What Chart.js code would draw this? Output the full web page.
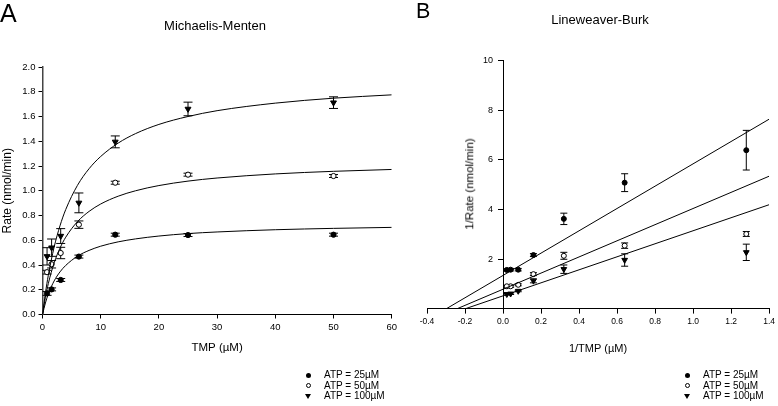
<!DOCTYPE html>
<html>
<head>
<meta charset="utf-8">
<script src="https://cdn.jsdelivr.net/npm/chart.js@4.4.0/dist/chart.umd.min.js"></script>
<style>
  body { margin: 0; background: #fff; width: 778px; height: 406px; overflow: hidden; position: relative;
         font-family: "Liberation Sans", Arial, sans-serif; color: #000; }
  canvas { position: absolute; top: 0; }
  #cMM { left: 0; }
  #cLB { left: 400px; }
  .txt { position: absolute; white-space: nowrap; line-height: 1; }
  .panel { font-size: 25px; }
  .title { font-size: 13px; transform: translate(-50%, -50%); }
  .ytitle { font-size: 11.5px; transform: translate(-50%, -50%) rotate(-90deg); }
  .legend { position: absolute; font-size: 10px; }
  .legend div { position: relative; height: 10.5px; line-height: 10.5px; padding-left: 16px; white-space: nowrap; }
  .legend span { position: absolute; left: 0; top: 50%; box-sizing: border-box; }
  .dot { width: 5px; height: 5px; margin: -2.5px 0 0 -2.5px; border-radius: 50%; background: #000; }
  .ring { width: 5px; height: 5px; margin: -2.5px 0 0 -2.5px; border-radius: 50%; border: 1px solid #000; }
  .tri { width: 0; height: 0; margin: -2.5px 0 0 -3px; border-left: 3px solid transparent;
         border-right: 3px solid transparent; border-top: 5px solid #000; }
</style>
</head>
<body>
<canvas id="cMM" width="400" height="406"></canvas>
<canvas id="cLB" width="378" height="406"></canvas>

<div class="txt panel" style="left:0px;top:1px;">A</div>
<div class="txt panel" style="left:416px;top:1px;font-size:21.5px;">B</div>
<div class="txt title" style="left:215px;top:25px;">Michaelis-Menten</div>
<div class="txt title" style="left:600px;top:18.5px;">Lineweaver-Burk</div>
<div class="txt ytitle" style="left:470px;top:184px;">1/Rate (nmol/min)</div>

<div class="legend" style="left:308px;top:370px;">
  <div><span class="dot"></span>ATP = 25µM</div>
  <div><span class="ring"></span>ATP = 50µM</div>
  <div><span class="tri"></span>ATP = 100µM</div>
</div>
<div class="legend" style="left:687px;top:370px;">
  <div><span class="dot"></span>ATP = 25µM</div>
  <div><span class="ring"></span>ATP = 50µM</div>
  <div><span class="tri"></span>ATP = 100µM</div>
</div>

<script>
// Michaelis-Menten data (TMP in uM, rate in nmol/min)
const tmp = [0.78125, 1.5625, 3.125, 6.25, 12.5, 25, 50];
const rate25 = [0.17, 0.203, 0.279, 0.468, 0.645, 0.642, 0.645];
const err25 = [0.015, 0.012, 0.012, 0.012, 0.012, 0.012, 0.012];
const rate50 = [0.342, 0.406, 0.497, 0.726, 1.065, 1.13, 1.119];
const err50 = [0.015, 0.03, 0.046, 0.03, 0.012, 0.012, 0.012];
const rate100 = [0.47, 0.54, 0.634, 0.902, 1.395, 1.661, 1.712];
const err100 = [0.07, 0.07, 0.06, 0.08, 0.048, 0.055, 0.047];

// fitted curves
const fitX = [0, 0.5, 1, 2, 3, 4, 6, 8, 10, 13, 16, 20, 25, 30, 40, 50, 60];
const fit25 = [0, 0.093, 0.166, 0.271, 0.344, 0.397, 0.471, 0.518, 0.552, 0.587, 0.611, 0.634, 0.654, 0.667, 0.685, 0.696, 0.704];
const fit50 = [0, 0.139, 0.25, 0.417, 0.536, 0.625, 0.75, 0.833, 0.893, 0.956, 1.0, 1.042, 1.078, 1.103, 1.136, 1.157, 1.172];
const fit100 = [0, 0.173, 0.317, 0.545, 0.716, 0.849, 1.043, 1.178, 1.277, 1.385, 1.462, 1.536, 1.6, 1.647, 1.708, 1.748, 1.775];

// Lineweaver-Burk data
const invTmp = [1.28, 0.64, 0.32, 0.16, 0.08, 0.04, 0.02];
const inv25 = [6.39, 5.08, 3.62, 2.16, 1.57, 1.57, 1.56];
const invErr25 = [0.8, 0.36, 0.23, 0.06, 0.05, 0.05, 0.05];
const inv50 = [3.01, 2.54, 2.13, 1.39, 0.96, 0.9, 0.9];
const invErr50 = [0.1, 0.11, 0.14, 0.06, 0.04, 0.04, 0.04];
const inv100 = [2.27, 1.96, 1.59, 1.12, 0.71, 0.6, 0.58];
const invErr100 = [0.33, 0.25, 0.17, 0.08, 0.03, 0.03, 0.03];

// regression lines (x-intercept to x = 1.4)
const lineX25 = [-0.297, 1.4], lineY25 = [0, 7.64];
const lineX50 = [-0.24, 1.4], lineY50 = [0, 5.34];
const lineX100 = [-0.196, 1.4], lineY100 = [0, 4.19];

const pts = (xs, ys) => xs.map((x, i) => ({ x: x, y: ys[i] }));

// draws vertical error bars with caps, behind the markers
const errorBars = {
    id: 'errorBars',
    beforeDatasetsDraw(chart, args, opts) {
        const { ctx, scales: { x, y } } = chart;
        ctx.save();
        ctx.strokeStyle = '#000';
        ctx.lineWidth = 1;
        chart.data.datasets.forEach(ds => {
            if (!ds.errors) return;
            ds.data.forEach((p, i) => {
                const px = x.getPixelForValue(p.x);
                const top = y.getPixelForValue(p.y + ds.errors[i]);
                const bot = y.getPixelForValue(p.y - ds.errors[i]);
                ctx.beginPath();
                ctx.moveTo(px, top); ctx.lineTo(px, bot);
                ctx.moveTo(px - opts.cap, top); ctx.lineTo(px + opts.cap, top);
                ctx.moveTo(px - opts.cap, bot); ctx.lineTo(px + opts.cap, bot);
                ctx.stroke();
            });
        });
        ctx.restore();
    }
};

const lineSet = (data, smooth) => ({
    data: data, showLine: true, pointRadius: 0, borderColor: '#000', borderWidth: 1,
    cubicInterpolationMode: smooth ? 'monotone' : 'default'
});
const markerSets = (d25, e25, d50, e50, d100, e100, r) => [
    { data: d25, errors: e25, pointStyle: 'circle', pointRadius: r, backgroundColor: '#000', borderColor: '#000', borderWidth: 1 },
    { data: d50, errors: e50, pointStyle: 'circle', pointRadius: r, backgroundColor: '#fff', borderColor: '#000', borderWidth: 1 },
    { data: d100, errors: e100, pointStyle: 'triangle', pointRotation: 180, pointRadius: r + 0.8, backgroundColor: '#000', borderColor: '#000', borderWidth: 1 }
];

const tickFont = size => ({ family: '"Liberation Sans", Arial, sans-serif', size: size });
const axisGrid = len => ({ drawOnChartArea: false, tickLength: len, color: '#000', tickColor: '#000' });

new Chart(document.getElementById('cMM'), {
    type: 'scatter',
    data: {
        datasets: [
            lineSet(pts(fitX, fit25), true),
            lineSet(pts(fitX, fit50), true),
            lineSet(pts(fitX, fit100), true),
            ...markerSets(pts(tmp, rate25), err25, pts(tmp, rate50), err50, pts(tmp, rate100), err100, 2.6)
        ]
    },
    options: {
        responsive: false,
        animation: false,
        layout: { padding: { left: 0, top: 67, right: 7, bottom: 51.5 } },
        plugins: { legend: { display: false }, tooltip: { enabled: false }, errorBars: { cap: 4.5 } },
        scales: {
            x: {
                type: 'linear', min: 0, max: 60,
                ticks: { stepSize: 10, color: '#000', font: tickFont(9.5), padding: 3 },
                grid: axisGrid(4),
                border: { color: '#000' },
                title: { display: true, text: 'TMP (µM)', color: '#000', padding: 0, font: tickFont(11.5) },
                afterFit: s => { s.height = 40; }
            },
            y: {
                min: 0, max: 2,
                ticks: { stepSize: 0.2, color: '#000', font: tickFont(9.5), padding: 3, callback: v => v.toFixed(1) },
                grid: axisGrid(4),
                border: { color: '#444', width: 1.5 },
                title: { display: true, text: 'Rate (nmol/min)', color: '#000', padding: 0, font: tickFont(12) },
                afterFit: s => { s.width = 42.5; }
            }
        }
    },
    plugins: [errorBars]
});

new Chart(document.getElementById('cLB'), {
    type: 'scatter',
    data: {
        datasets: [
            lineSet(pts(lineX25, lineY25), false),
            lineSet(pts(lineX50, lineY50), false),
            lineSet(pts(lineX100, lineY100), false),
            ...markerSets(pts(invTmp, inv25), invErr25, pts(invTmp, inv50), invErr50, pts(invTmp, inv100), invErr100, 2.5)
        ]
    },
    options: {
        responsive: false,
        animation: false,
        layout: { padding: { left: 27, top: 60.7, right: 6.3, bottom: 50.4 } },
        plugins: { legend: { display: false }, tooltip: { enabled: false }, errorBars: { cap: 3.5 } },
        scales: {
            x: {
                type: 'linear', min: -0.4, max: 1.4,
                ticks: { stepSize: 0.2, color: '#000', font: tickFont(8.5), padding: 3,
                         callback: v => (Math.abs(v) < 1e-9 ? 0 : v).toFixed(1) },
                grid: axisGrid(5),
                border: { color: '#000' },
                title: { display: true, text: '1/TMP (µM)', color: '#000', padding: 0, font: tickFont(11) },
                afterFit: s => { s.height = 47; }
            },
            y: {
                position: { x: 0 },
                min: 0, max: 10,
                // labels sit on the axis line here, trailing spaces push them clear of the ticks
                ticks: { stepSize: 2, color: '#000', font: tickFont(9), padding: 4,
                         callback: v => (v === 0 ? '' : v + '    ') },
                grid: axisGrid(5),
                border: { color: '#000' }
            }
        }
    },
    plugins: [errorBars]
});
</script>
</body>
</html>
